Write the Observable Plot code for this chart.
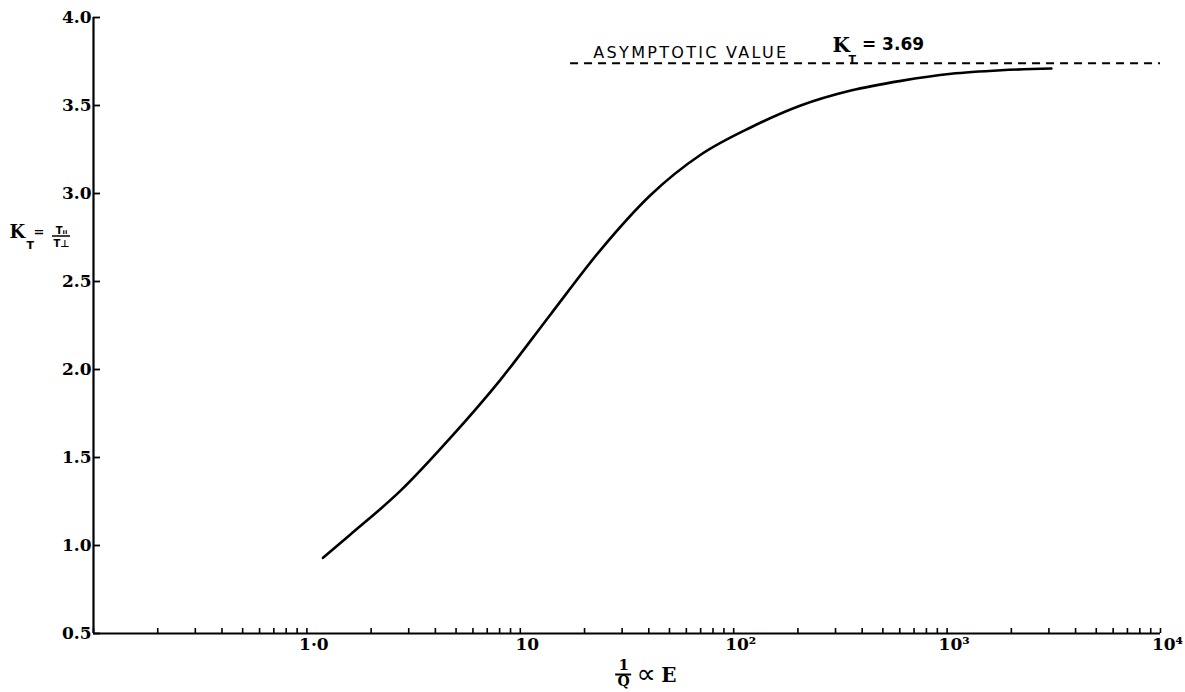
<!DOCTYPE html>
<html>
<head>
<meta charset="utf-8">
<script src="https://cdn.jsdelivr.net/npm/d3@7"></script>
<script src="https://cdn.jsdelivr.net/npm/@observablehq/plot@0.6"></script>
<style>
  html, body { margin: 0; padding: 0; background: #fff; }
  #chart svg { display: block; }
</style>
</head>
<body>
<div id="chart"></div>
<script>
// ---- data ----
const invQ = [1.19, 1.59, 2.74, 4.69, 8.05, 13.8, 23.8, 40.7, 70, 120, 206, 354, 608, 1045, 1794, 3080];
const kT   = [0.93, 1.06, 1.31, 1.61, 1.94, 2.31, 2.68, 2.99, 3.22, 3.375, 3.50, 3.585, 3.64, 3.68, 3.70, 3.71];

const asymptoteValue = 3.74;        // where the dashed line sits
const asymptoteStart = 17.2;        // dashed line starts here (1/Q)
const asymptoteEnd = 10000;
const asymptoteLabel = "ASYMPTOTIC VALUE";
const asymptoteK = "3.69";

const xMajorTicks = [1, 10, 100, 1000, 10000];
const xMajorLabels = ["1·0", "10", "10²", "10³", "10⁴"];
const xMinorMultipliers = [1, 2, 3, 4, 5, 6, 7, 8, 9];
const xDecades = [0.1, 1, 10, 100, 1000];
const yTicks = [0.5, 1.0, 1.5, 2.0, 2.5, 3.0, 3.5, 4.0];
const yTickLabels = ["0.5", "1.0", "1.5", "2.0", "2.5", "3.0", "3.5", "4.0"];

const xTitleAt = 30.5;              // 1/Q value under which the x title sits
const yTitleAt = 2.75;              // K value beside which the y title sits
const annotAt = 22;                 // 1/Q where "ASYMPTOTIC VALUE" begins
const kLabelAt = 290;               // 1/Q where "K" begins
const kSubAt = 345;
const kValueAt = 399;

// ---- build tables ----
const curve = invQ.map((x, i) => ({x, y: kT[i]}));
const xAllTicks = [];
for (const d of xDecades) for (const m of xMinorMultipliers) xAllTicks.push(+(d * m).toPrecision(3));
xAllTicks.push(10000);
const xLabelMap = new Map(xMajorTicks.map((v, i) => [v, xMajorLabels[i]]));
const yLabelMap = new Map(yTicks.map((v, i) => [v, yTickLabels[i]]));

const serif = "'DejaVu Serif', 'Liberation Serif', serif";
const sans = "'DejaVu Sans', 'Liberation Sans', sans-serif";

const chart = Plot.plot({
  width: 1185,
  height: 692,
  marginLeft: 93,
  marginRight: 25,
  marginTop: 17,
  marginBottom: 59,
  x: {type: "log", domain: [0.1, 10000], axis: null},
  y: {domain: [0.5, 4.0], axis: null},
  style: {fontFamily: serif, fontWeight: "bold", fontSize: "17px", color: "#000", background: "#fff", overflow: "visible"},
  marks: [
    // axis lines
    Plot.ruleY([0.5], {x1: 0.1, x2: 10000, stroke: "#000", strokeWidth: 2.2}),
    Plot.ruleX([0.1], {y1: 0.5, y2: 4.0, stroke: "#000", strokeWidth: 2.2}),
    // inward ticks
    Plot.tickX(xAllTicks, {x: d => d, insetTop: 611, stroke: "#000", strokeWidth: 1.6}),
    Plot.tickY(yTicks, {y: d => d, insetRight: 1060, stroke: "#000", strokeWidth: 1.8}),
    // tick labels
    Plot.axisX({ticks: xMajorTicks, label: null, tickSize: 0, tickPadding: 4, dx: 7, tickFormat: d => xLabelMap.get(d), fontSize: 17, fontFamily: serif, fontWeight: "bold"}),
    Plot.axisY({ticks: yTicks, label: null, tickSize: 0, tickPadding: 2, tickFormat: d => yLabelMap.get(d), fontSize: 17, fontFamily: serif, fontWeight: "bold"}),
    // the curve
    Plot.line(curve, {x: "x", y: "y", curve: "monotone-x", stroke: "#000", strokeWidth: 2.6}),
    // asymptote
    Plot.ruleY([asymptoteValue], {x1: asymptoteStart, x2: asymptoteEnd, stroke: "#000", strokeWidth: 1.8, strokeDasharray: "8,6"}),
    Plot.text([asymptoteLabel], {x: annotAt, y: asymptoteValue, text: d => d, textAnchor: "start", lineAnchor: "bottom", dy: -5, fontFamily: sans, fontWeight: "normal", fontSize: 16}),
    Plot.text(["K"], {x: kLabelAt, y: asymptoteValue, text: d => d, textAnchor: "start", lineAnchor: "bottom", dy: -11, fontFamily: serif, fontWeight: "bold", fontSize: 20}),
    Plot.text(["T"], {x: kSubAt, y: asymptoteValue, text: d => d, textAnchor: "start", lineAnchor: "bottom", dy: 0, fontFamily: sans, fontWeight: "bold", fontSize: 11}),
    Plot.text(["= " + asymptoteK], {x: kValueAt, y: asymptoteValue, text: d => d, textAnchor: "start", lineAnchor: "bottom", dy: -13, fontFamily: sans, fontWeight: "bold", fontSize: 17}),
    // x title: 1/Q ∝ E
    Plot.text(["1"], {x: xTitleAt, y: 0.5, text: d => d, lineAnchor: "bottom", dy: 36, fontFamily: serif, fontWeight: "bold", fontSize: 15}),
    Plot.ruleY([0.5], {x1: xTitleAt / 1.09, x2: xTitleAt * 1.09, dy: 41, stroke: "#000", strokeWidth: 2}),
    Plot.text(["Q"], {x: xTitleAt, y: 0.5, text: d => d, lineAnchor: "top", dy: 43, fontFamily: serif, fontWeight: "bold", fontSize: 14}),
    Plot.text(["∝"], {x: xTitleAt * 1.15, y: 0.5, text: d => d, textAnchor: "start", lineAnchor: "bottom", dy: 49, fontFamily: sans, fontWeight: "normal", fontSize: 27}),
    Plot.text(["E"], {x: xTitleAt * 1.5, y: 0.5, text: d => d, textAnchor: "start", lineAnchor: "bottom", dy: 48, fontFamily: serif, fontWeight: "bold", fontSize: 20}),
    // y title: K_T = T‖ / T⊥
    Plot.text(["K"], {x: 0.1, y: yTitleAt, text: d => d, textAnchor: "start", lineAnchor: "bottom", dx: -84, dy: 0, fontFamily: serif, fontWeight: "bold", fontSize: 18}),
    Plot.text(["T"], {x: 0.1, y: yTitleAt, text: d => d, textAnchor: "start", lineAnchor: "bottom", dx: -67, dy: 11, fontFamily: sans, fontWeight: "bold", fontSize: 11}),
    Plot.text(["="], {x: 0.1, y: yTitleAt, text: d => d, textAnchor: "start", lineAnchor: "bottom", dx: -60, dy: -2, fontFamily: sans, fontWeight: "bold", fontSize: 13}),
    Plot.text(["T"], {x: 0.1, y: yTitleAt, text: d => d, textAnchor: "end", lineAnchor: "bottom", dx: -31, dy: -4, fontFamily: sans, fontWeight: "bold", fontSize: 10}),
    Plot.text(["ıı"], {x: 0.1, y: yTitleAt, text: d => d, textAnchor: "start", lineAnchor: "bottom", dx: -31, dy: -4, fontFamily: sans, fontWeight: "bold", fontSize: 7}),
    Plot.text(["T⊥"], {x: 0.1, y: yTitleAt, text: d => d, textAnchor: "middle", lineAnchor: "top", dx: -32, dy: 2, fontFamily: sans, fontWeight: "bold", fontSize: 10})
  ]
});

const svg = d3.select(chart);
// letter spacing for the hand-lettered annotation
svg.selectAll("text").filter(function () { return this.textContent === asymptoteLabel; })
  .attr("letter-spacing", "2.3px");
// fraction bar for the y title, positioned through the chart's scales
const xs = chart.scale("x"), ys = chart.scale("y");
svg.append("line")
  .attr("x1", xs.apply(0.1) - 41).attr("x2", xs.apply(0.1) - 23)
  .attr("y1", ys.apply(yTitleAt) - 1).attr("y2", ys.apply(yTitleAt) - 1)
  .attr("stroke", "#000").attr("stroke-width", 1.5);

document.getElementById("chart").append(chart);
</script>
</body>
</html>
